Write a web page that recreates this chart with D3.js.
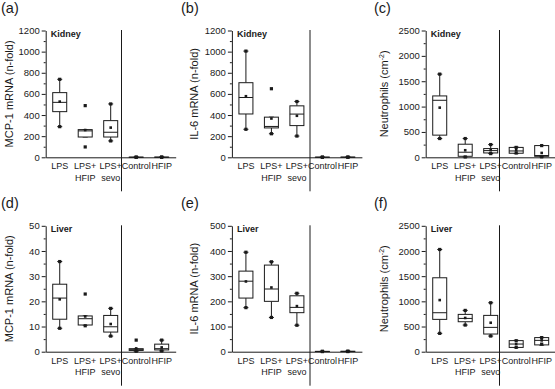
<!DOCTYPE html>
<html>
<head>
<meta charset="utf-8">
<script src="https://cdn.jsdelivr.net/npm/d3@7"></script>
<style>
  body { margin: 0; background: #fff; }
  svg { display: block; font-family: "Liberation Sans", Arial, sans-serif; }
</style>
</head>
<body>
<div id="chart"></div>
<script>
// group names (line break = second label line)
const groups = ["LPS", "LPS+\nHFIP", "LPS+\nsevo", "Control", "HFIP"];

// each row: [whiskerLow, q1, median, q3, whiskerHigh, mean, dotLow, dotHigh]
const kidneyMcp1 = [
  [290, 432, 520, 612, 738, 527, 290, 738],
  [192, 192, 250, 262, 262, 258, 98, 489],
  [155, 192, 237, 347, 505, 281, 155, 505],
  [0.4, 0.8, 1, 1.2, 1.8, 1, 0.4, 1.8],
  [0.5, 0.9, 1.2, 1.6, 2.5, 1.3, 0.5, 2.5]
];
const kidneyIl6 = [
  [265, 410, 566, 706, 1005, 578, 265, 1005],
  [223, 278, 292, 380, 380, 367, 223, 649],
  [201, 300, 409, 487, 528, 393, 201, 528],
  [0.4, 0.8, 1, 1.2, 1.8, 1, 0.4, 1.8],
  [0.5, 0.9, 1.2, 1.6, 2.5, 1.3, 0.5, 2.5]
];
const kidneyNeutro = [
  [370, 437, 1124, 1210, 1640, 979, 370, 1640],
  [7, 20, 100, 258, 370, 139, 7, 370],
  [73, 86, 132, 172, 251, 139, 73, 251],
  [73, 80, 125, 195, 200, 140, 85, 195],
  [10, 20, 35, 231, 231, 86, 10, 231]
];
const liverMcp1 = [
  [9.3, 12.9, 21.3, 26.8, 35.8, 20.8, 9.3, 35.8],
  [10.6, 10.6, 13.1, 14.2, 14.2, 14.0, 10.3, 22.9],
  [6.2, 7.8, 9.9, 14.4, 17.2, 11.0, 6.2, 17.2],
  [0.2, 0.5, 0.8, 1.2, 1.2, 1.3, 0.2, 4.6],
  [0.3, 0.7, 1.2, 3.0, 4.6, 1.7, 0.3, 4.6]
];
const liverIl6 = [
  [175, 213, 280, 320, 395, 279, 175, 395],
  [136, 200, 249, 344, 357, 255, 136, 357],
  [105, 155, 176, 222, 232, 181, 105, 232],
  [0.4, 0.8, 1, 1.2, 1.8, 1, 0.4, 1.8],
  [0.5, 0.9, 1.2, 1.6, 2.5, 1.3, 0.5, 2.5]
];
const liverNeutro = [
  [364, 642, 774, 1468, 2030, 1025, 364, 2030],
  [529, 595, 661, 741, 820, 670, 529, 820],
  [311, 351, 483, 721, 972, 575, 311, 972],
  [80, 85, 152, 220, 225, 152, 86, 218],
  [132, 135, 225, 280, 284, 225, 150, 280]
];

// y tick labels
const ticksKidneyMrna = [0, 200, 400, 600, 800, 1000, 1200];
const ticksNeutro = [0, 500, 1000, 1500, 2000, 2500];
const ticksLiverMcp1 = [0, 10, 20, 30, 40, 50];
const ticksLiverIl6 = [0, 100, 200, 300, 400, 500];

const panels = [
  {tag: "(a)", organ: "Kidney", title: "MCP-1 mRNA (n-fold)", data: kidneyMcp1, ticks: ticksKidneyMrna, col: 0, row: 0},
  {tag: "(b)", organ: "Kidney", title: "IL-6 mRNA (n-fold)", data: kidneyIl6, ticks: ticksKidneyMrna, col: 1, row: 0},
  {tag: "(c)", organ: "Kidney", title: "Neutrophils (cm", sup: "-2", data: kidneyNeutro, ticks: ticksNeutro, col: 2, row: 0},
  {tag: "(d)", organ: "Liver", title: "MCP-1 mRNA (n-fold)", data: liverMcp1, ticks: ticksLiverMcp1, col: 0, row: 1},
  {tag: "(e)", organ: "Liver", title: "IL-6 mRNA (n-fold)", data: liverIl6, ticks: ticksLiverIl6, col: 1, row: 1},
  {tag: "(f)", organ: "Liver", title: "Neutrophils (cm", sup: "-2", data: liverNeutro, ticks: ticksNeutro, col: 2, row: 1}
];

// layout
const W = 555, H = 389;
const axisX = [45.7, 231.9, 425.7];
const dividerX = [121.5, 310, 499.5];
const titleX = [9, 194, 384];
const tagX = [1, 181, 374];
const yTop = [30.5, 225.8];
const yBot = [157.3, 351.7];
const tagY = [13, 208];
const ink = "#1a1a1a";

const svg = d3.select("#chart").append("svg")
  .attr("width", W)
  .attr("height", H);

panels.forEach(p => {
  const ax = axisX[p.col];
  const top = yTop[p.row], bot = yBot[p.row];
  const max = p.ticks[p.ticks.length - 1];

  const y = d3.scaleLinear().domain([0, max]).range([bot, top]);
  const x = d3.scaleBand().domain(groups).range([ax, ax + 130])
    .paddingInner(0).paddingOuter(0.05);

  const g = svg.append("g");

  // minor ticks (midpoints of the major ones)
  const minor = p.ticks.slice(1).map((t, i) => (t + p.ticks[i]) / 2);
  const gMinor = g.append("g")
    .attr("transform", `translate(${ax},0)`)
    .call(d3.axisLeft(y).tickValues(minor).tickSize(2).tickFormat(""));
  gMinor.select(".domain").remove();
  gMinor.selectAll("line").attr("stroke", ink);

  // y axis
  const gy = g.append("g")
    .attr("transform", `translate(${ax},0)`)
    .call(d3.axisLeft(y).tickValues(p.ticks).tickFormat(d3.format("d"))
      .tickSize(4).tickSizeOuter(0).tickPadding(2));
  gy.select(".domain").attr("stroke", ink);
  gy.selectAll("line").attr("stroke", ink);
  gy.selectAll("text")
    .attr("font-family", "Liberation Sans, Arial, sans-serif")
    .attr("font-size", 9.5)
    .attr("fill", ink);

  // x axis with two-line labels
  const gx = g.append("g")
    .attr("transform", `translate(0,${bot})`)
    .call(d3.axisBottom(x).tickSize(0).tickSizeOuter(0));
  gx.select(".domain").attr("stroke", ink);
  gx.selectAll(".tick text")
    .attr("font-family", "Liberation Sans, Arial, sans-serif")
    .attr("font-size", 9)
    .attr("fill", ink)
    .attr("y", 12)
    .attr("dy", 0)
    .each(function(d) {
      const t = d3.select(this);
      t.text(null);
      d.split("\n").forEach((s, i) => {
        t.append("tspan").attr("x", 0).attr("dy", i ? "1.3em" : 0).text(s);
      });
    });

  // divider between LPS groups and controls
  g.append("line")
    .attr("x1", dividerX[p.col]).attr("x2", dividerX[p.col])
    .attr("y1", top - 0.5).attr("y2", bot + 34)
    .attr("stroke", ink).attr("stroke-width", 1);

  // boxes
  const bw = 14, cap = 5;
  p.data.forEach((d, i) => {
    const cx = x(groups[i]) + x.bandwidth() / 2;
    const [lo, q1, med, q3, hi, mean, dLo, dHi] = d;
    const b = g.append("g").attr("stroke", ink).attr("fill", "none").attr("stroke-width", 1);
    b.append("line").attr("x1", cx).attr("x2", cx).attr("y1", y(hi)).attr("y2", y(q3));
    b.append("line").attr("x1", cx).attr("x2", cx).attr("y1", y(q1)).attr("y2", y(lo));
    b.append("line").attr("x1", cx - cap / 2).attr("x2", cx + cap / 2).attr("y1", y(hi)).attr("y2", y(hi));
    b.append("line").attr("x1", cx - cap / 2).attr("x2", cx + cap / 2).attr("y1", y(lo)).attr("y2", y(lo));
    b.append("rect")
      .attr("x", cx - bw / 2).attr("width", bw)
      .attr("y", y(q3)).attr("height", Math.max(0, y(q1) - y(q3)))
      .attr("fill", "#fff");
    b.append("line").attr("x1", cx - bw / 2).attr("x2", cx + bw / 2).attr("y1", y(med)).attr("y2", y(med));
    [dLo, dHi].forEach(v => {
      g.append("rect").attr("x", cx - 1.6).attr("y", y(v) - 1.6)
        .attr("width", 3.2).attr("height", 3.2).attr("fill", ink);
    });
    g.append("rect").attr("x", cx - 1.3).attr("y", y(mean) - 1.3)
      .attr("width", 2.6).attr("height", 2.6).attr("fill", ink);
  });

  // organ label
  g.append("text")
    .attr("x", ax + 5).attr("y", top + 6.5)
    .attr("font-size", 9).attr("font-weight", "bold").attr("fill", ink)
    .text(p.organ);

  // y title
  const ty = g.append("text")
    .attr("transform", `translate(${titleX[p.col]},${(top + bot) / 2}) rotate(-90)`)
    .attr("text-anchor", "middle")
    .attr("dominant-baseline", "central")
    .attr("font-size", 11).attr("fill", ink)
    .text(p.title);
  if (p.sup) {
    ty.append("tspan").attr("font-size", 7).attr("dy", "-0.45em").text(p.sup);
    ty.append("tspan").attr("dy", "0.3em").text(")");
  }

  // panel tag
  svg.append("text")
    .attr("x", tagX[p.col]).attr("y", tagY[p.row])
    .attr("font-size", 14.5).attr("fill", ink)
    .text(p.tag);
});
</script>
</body>
</html>
